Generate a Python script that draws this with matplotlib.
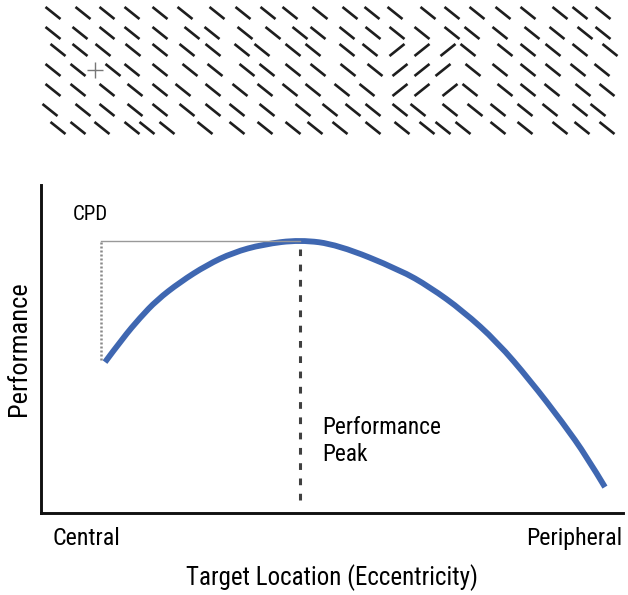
import numpy as np
import matplotlib.pyplot as plt
from matplotlib.collections import LineCollection
from matplotlib.path import Path
from matplotlib.patches import PathPatch

# texture display (pixel positions)
row_y = [13, 33, 50, 70, 90, 110, 128]
row_x = [
    [53, 83, 107, 132, 160, 185, 217, 243, 268, 290, 320, 350, 372, 395, 428, 452, 477, 503, 528, 560, 580, 603],
    [53, 80, 107, 132, 160, 192, 212, 245, 273, 300, 318, 347, 373, 397, 422, 452, 472, 500, 532, 557, 585, 603],
    [58, 80, 103, 133, 160, 187, 213, 242, 262, 293, 313, 347, 370, 397, 422, 448, 468, 505, 528, 553, 580, 610],
    [53, 78, 113, 132, 160, 190, 215, 247, 267, 293, 318, 348, 375, 400, 422, 443, 473, 500, 528, 553, 578, 602],
    [53, 78, 107, 135, 160, 183, 213, 240, 265, 290, 313, 342, 367, 400, 422, 450, 470, 505, 528, 552, 583, 607],
    [50, 83, 107, 135, 160, 187, 213, 237, 267, 303, 330, 353, 373, 400, 418, 450, 475, 498, 525, 550, 580, 598],
    [58, 78, 102, 132, 147, 167, 205, 237, 265, 293, 315, 340, 373, 402, 427, 443, 463, 498, 525, 560, 582, 607],
]
# rows / x range of the odd-orientation target patch
target_rows = [2, 3, 4]
target_x = (390, 455)
fixation = (95, 70)

# performance curve (eccentricity 0-100, performance 0-100)
ecc = [11.0, 14.1, 17.0, 19.9, 23.9, 28.5, 33.0, 38.1, 44.5, 51.0,
       61.7, 66.8, 72.5, 78.4, 84.0, 89.7, 93.8, 96.9]
perf = [46.0, 53.4, 59.5, 64.9, 70.4, 75.6, 79.4, 81.9, 83.3, 81.8,
        74.1, 68.9, 61.6, 52.1, 40.5, 27.4, 17.1, 7.9]
peak_ecc = 44.5
peak_perf = 83.0
start_ecc = 10.3
start_perf = 46.6

plt.rcParams['font.family'] = ['Roboto Condensed', 'Roboto', 'DejaVu Sans']

fig = plt.figure(figsize=(6.28, 5.95), dpi=100)

# ---- texture panel
ax_t = fig.add_axes([0, 1 - 140 / 595, 1, 140 / 595])
ax_t.set_xlim(0, 628)
ax_t.set_ylim(140, 0)
ax_t.axis('off')

segs = []
dx, dy = 7.5, 6.0
for i, (y, xs) in enumerate(zip(row_y, row_x)):
    for x in xs:
        if i in target_rows and target_x[0] <= x <= target_x[1]:
            segs.append([(x - dx, y + dy), (x + dx, y - dy)])
        else:
            segs.append([(x - dx, y - dy), (x + dx, y + dy)])
ax_t.add_collection(LineCollection(segs, colors='#1e1e1e', linewidths=1.9,
                                   capstyle='butt'))
ax_t.plot(fixation[0], fixation[1], marker='+', ms=11, mew=1.0, color='#777777')

# ---- performance panel
ax = fig.add_axes([41 / 628, 1 - 513 / 595, (623 - 41) / 628, (513 - 185) / 595])
ax.set_xlim(0, 100)
ax.set_ylim(0, 100)
for s in ['top', 'right']:
    ax.spines[s].set_visible(False)
for s in ['left', 'bottom']:
    ax.spines[s].set_linewidth(2.1)
    ax.spines[s].set_color('#111111')
ax.set_xticks([])
ax.set_yticks([])

ax.plot([start_ecc, peak_ecc], [peak_perf, peak_perf], color='#999999', lw=1.0)
ax.plot([start_ecc, start_ecc], [start_perf, peak_perf], color='#888888',
        lw=1.8, ls=(0, (0.8, 0.8)))
ax.plot([peak_ecc, peak_ecc], [4.0, peak_perf - 2.5], color='#404040', lw=2.2,
        ls=(0, (2.2, 2.8)))

# smooth path through the read points (quadratic segments between midpoints)
pts = np.column_stack([ecc, perf])
verts = [pts[0]]
codes = [Path.MOVETO]
for i in range(1, len(pts) - 1):
    end = pts[i + 1] if i == len(pts) - 2 else (pts[i] + pts[i + 1]) / 2
    verts += [pts[i], end]
    codes += [Path.CURVE3, Path.CURVE3]
ax.add_patch(PathPatch(Path(verts, codes), fill=False, edgecolor='#3f67b1',
                       lw=4.2, capstyle='butt'))

ax.text(8.5, 91, 'CPD', fontsize=15, va='center', ha='center')
ax.text(48.3, 22, 'Performance\nPeak', fontsize=16.8, va='center', ha='left',
        linespacing=1.25)

ax.text(1.9, -7.9, 'Central', fontsize=17.3, va='center', ha='left',
        clip_on=False)
ax.text(99.8, -7.9, 'Peripheral', fontsize=17.3, va='center', ha='right',
        clip_on=False)
ax.set_xlabel('Target Location (Eccentricity)', fontsize=18, labelpad=37)
ax.set_ylabel('Performance', fontsize=19, labelpad=7)

fig.savefig('out.png', dpi=100)
